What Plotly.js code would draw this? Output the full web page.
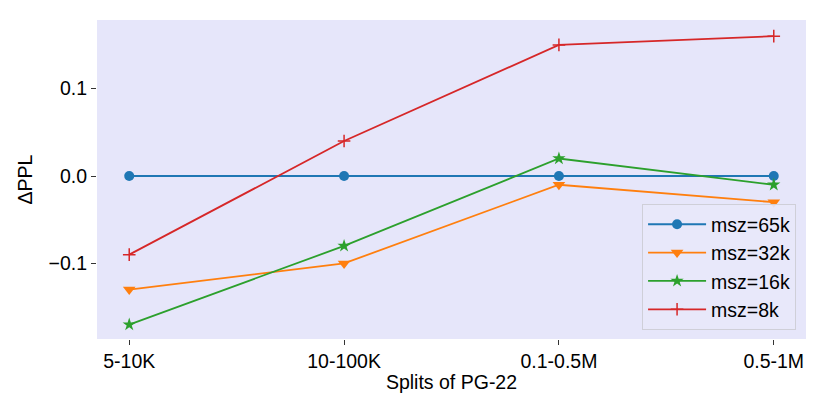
<!DOCTYPE html>
<html>
<head>
<meta charset="utf-8">
<script src="https://cdn.plot.ly/plotly-3.0.1.min.js"></script>
<style>html,body{margin:0;padding:0;background:#fff;}</style>
</head>
<body>
<div id="chart" style="width:830px;height:415px;"></div>
<script>
const categories = ["5-10K", "10-100K", "0.1-0.5M", "0.5-1M"];
const seriesNames = ["msz=65k", "msz=32k", "msz=16k", "msz=8k"];
const msz65k = [0.00, 0.00, 0.00, 0.00];
const msz32k = [-0.13, -0.10, -0.01, -0.03];
const msz16k = [-0.17, -0.08, 0.02, -0.01];
const msz8k = [-0.09, 0.04, 0.15, 0.16];
const yTickVals = [-0.1, 0.0, 0.1];
const yTickText = ["\u22120.1", "0.0", "0.1"];

const colors = ["#1f77b4", "#ff7f0e", "#2ca02c", "#d62728"];
const symbols = ["circle", "triangle-down", "star", "cross-thin"];
const sizes = [10, 11, 10, 9];
const allSeries = [msz65k, msz32k, msz16k, msz8k];
const xIdx = categories.map((c, i) => i);

const traces = allSeries.map((vals, i) => ({
  x: xIdx,
  y: vals,
  name: seriesNames[i],
  type: "scatter",
  mode: "lines+markers",
  line: {color: colors[i], width: 1.8},
  marker: {
    symbol: symbols[i],
    size: sizes[i],
    color: colors[i],
    line: {color: colors[i], width: i === 3 ? 1.5 : 0}
  }
}));

const font = "Liberation Sans, Arial, sans-serif";
const fs = 19.5;
const layout = {
  width: 830,
  height: 415,
  margin: {l: 97, r: 24, t: 20, b: 76},
  paper_bgcolor: "#ffffff",
  plot_bgcolor: "#e6e6fa",
  font: {family: font, size: fs, color: "#000"},
  showlegend: true,
  legend: {
    x: 0.986, y: 0.028, xanchor: "right", yanchor: "bottom",
    bgcolor: "rgba(232,232,249,0.9)",
    bordercolor: "#cfcfd8",
    borderwidth: 1,
    font: {family: font, size: fs, color: "#000"},
    itemwidth: 58
  },
  xaxis: {
    range: [-0.15, 3.15],
    tickmode: "array",
    tickvals: xIdx,
    ticktext: categories,
    showgrid: false,
    zeroline: false,
    showline: false,
    ticks: "outside",
    ticklen: 5,
    tickwidth: 1,
    tickcolor: "#333",
    tickfont: {family: font, size: fs},
    title: {text: "Splits of PG-22", font: {family: font, size: fs}, standoff: 3}
  },
  yaxis: {
    range: [-0.1865, 0.1785],
    tickmode: "array",
    tickvals: yTickVals,
    ticktext: yTickText,
    showgrid: false,
    zeroline: false,
    showline: false,
    ticks: "outside",
    ticklen: 5,
    tickwidth: 1,
    tickcolor: "#333",
    tickfont: {family: font, size: fs},
    title: {text: "ΔPPL", font: {family: font, size: fs}, standoff: 10}
  }
};

Plotly.newPlot("chart", traces, layout, {displayModeBar: false, staticPlot: true});
</script>
</body>
</html>
